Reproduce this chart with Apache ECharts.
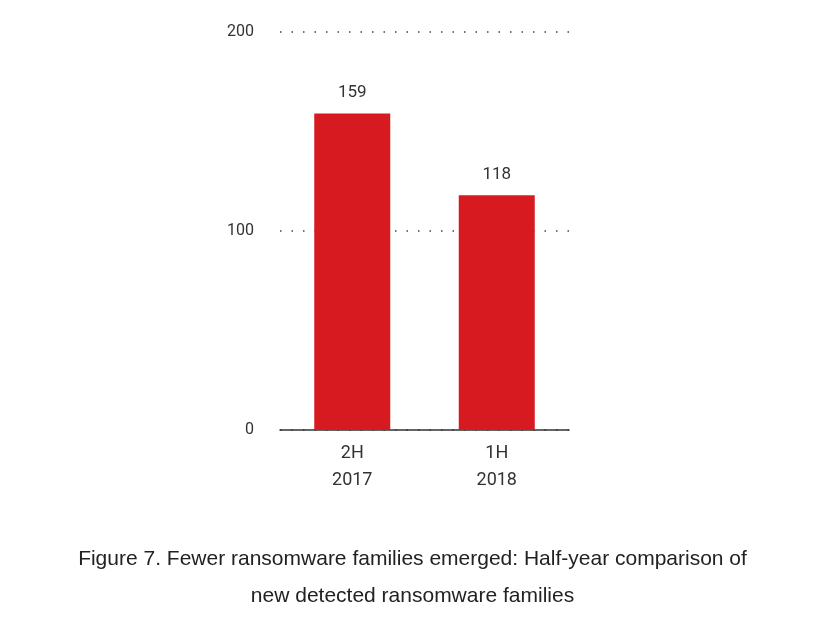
<!DOCTYPE html>
<html><head><meta charset="utf-8">
<script src="https://cdn.jsdelivr.net/npm/echarts@6/dist/echarts.min.js"></script>
<style>body{margin:0;background:#fff}#c{width:825px;height:620px}</style>
</head><body><div id="c"></div>
<script>
var categories = ['2H\n2017', '1H\n2018'];
var families = [159, 118];
var yTicks = [0, 100, 200];

var chart = echarts.init(document.getElementById('c'));
chart.setOption({
    animation: false,
    grid: {left: 280, right: 256, top: 32, bottom: 190},
    title: {
        text: 'Figure 7. Fewer ransomware families emerged: Half-year comparison of\nnew detected ransomware families',
        left: 'center', top: 536,
        textStyle: {fontFamily: 'Liberation Sans', fontSize: 21, fontWeight: 'normal', color: '#222', lineHeight: 37}
    },
    xAxis: {
        type: 'category', data: categories,
        axisLine: {lineStyle: {color: '#333', width: 1.5}},
        axisTick: {show: false},
        axisLabel: {color: '#333', fontSize: 18, fontFamily: 'Roboto', lineHeight: 27, margin: 10}
    },
    yAxis: {
        type: 'value', min: 0, max: 200, interval: 100,
        axisLabel: {color: '#333', fontSize: 16, fontFamily: 'Roboto', margin: 26,
            formatter: function (v) { return yTicks.indexOf(v) >= 0 ? v : ''; }},
        splitLine: {lineStyle: {color: '#444', type: [1.5, 10], width: 1.5}},
        axisLine: {show: false}, axisTick: {show: false}
    },
    series: [{
        type: 'bar', data: families, barWidth: 76,
        itemStyle: {color: '#d71920'},
        label: {show: true, position: 'top', distance: 12, color: '#333', fontSize: 17, fontFamily: 'Roboto'},
        z: 3
    }]
});
</script></body></html>
